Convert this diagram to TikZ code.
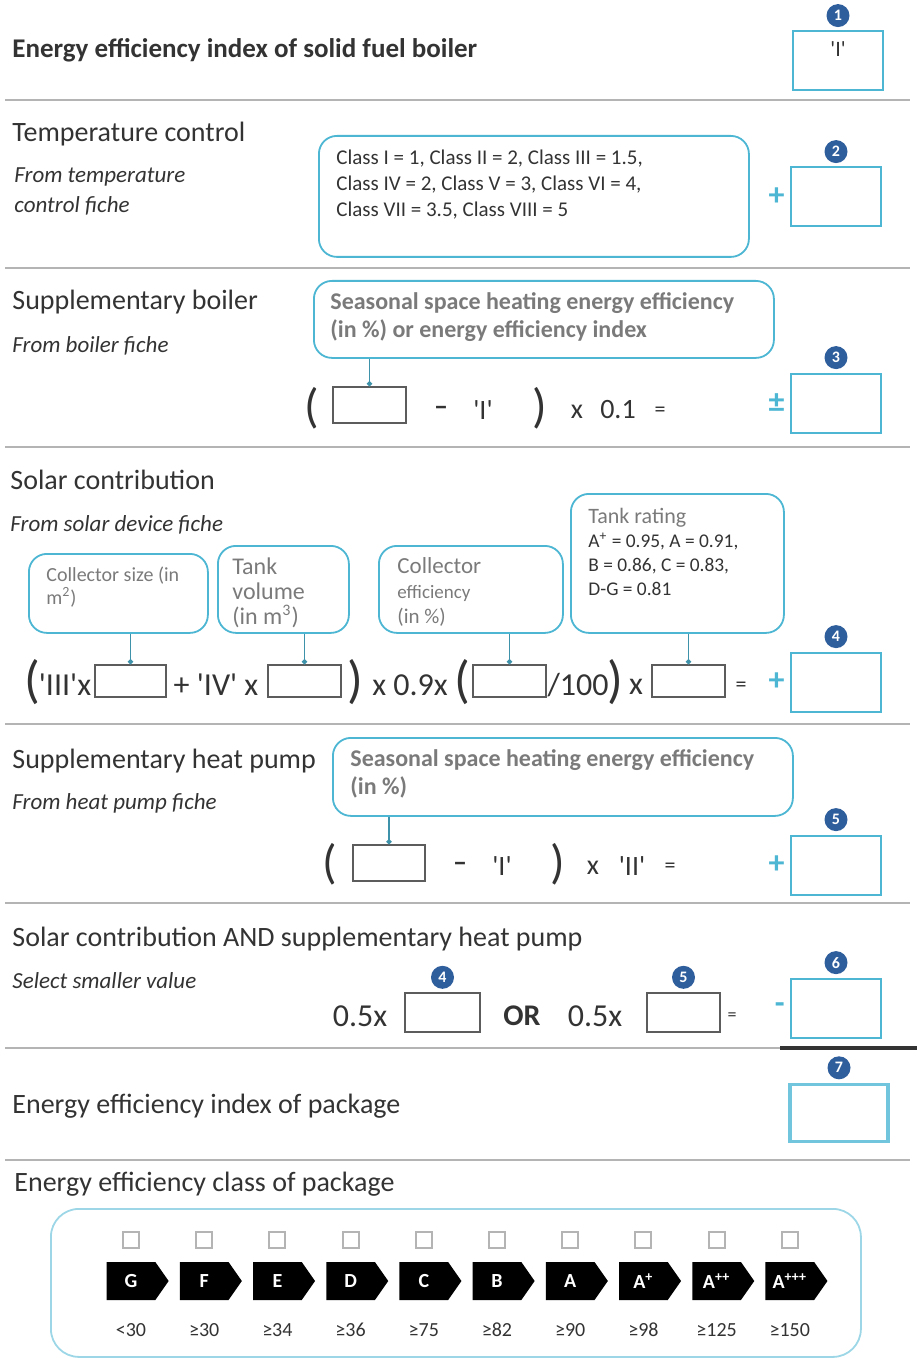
\documentclass[tikz,border=0pt]{standalone}
\usepackage{fontspec}
\setmainfont{Carlito}
\usetikzlibrary{positioning, arrows.meta, shapes.symbols}
\definecolor{frame}{HTML}{4DB6D3}
\definecolor{numblue}{HTML}{2F5E9C}
\definecolor{rulegray}{HTML}{B4B4B4}
\definecolor{hint}{HTML}{7A7A7A}
\definecolor{ink}{HTML}{333333}
\newcommand\qt[1]{\textquotesingle#1\textquotesingle}

\begin{document}
\begin{tikzpicture}[x=0.5pt, y=-0.5pt,
    sep/.style={draw=rulegray, line width=1.2pt},
    head/.style={anchor=base west, font=\fontsize{14}{16}\selectfont, text=ink, inner sep=0pt},
    sub/.style={anchor=base west, font=\fontsize{11.5}{13}\selectfont\itshape, text=ink, inner sep=0pt},
    result/.style={draw=frame, line width=1pt, minimum width=45pt, minimum height=29.5pt, inner sep=0pt},
    num/.style={circle, fill=numblue, text=white, font=\fontsize{8}{8}\selectfont\bfseries,
        minimum size=11.5pt, inner sep=0pt, above=1.5pt of #1},
    sign/.style={text=frame, font=\fontsize{16}{16}\selectfont\bfseries, inner sep=0pt, left=2.5pt of #1},
    info/.style={draw=frame, line width=0.9pt, rounded corners=9pt, anchor=north west, inner sep=0pt},
    note/.style={anchor=north west, align=left, inner sep=0pt, text=hint},
    entry/.style={draw=ink!80, line width=0.8pt, minimum width=36pt, minimum height=18pt, inner sep=0pt},
    term/.style={font=\fontsize{14}{15}\selectfont, text=ink, inner sep=1pt},
    bigterm/.style={font=\fontsize{16}{17}\selectfont, text=ink, inner sep=1pt},
    brace/.style={font=\fontsize{24}{24}\selectfont, text=ink, inner sep=0pt},
    feed/.style={draw=frame!80!black, line width=0.8pt, -{Circle[length=2.5pt]}},
    grade/.style={signal, signal to=east, signal pointer angle=110, fill=black, text=white,
        font=\fontsize{10}{11}\selectfont\bfseries, minimum width=31pt, minimum height=19pt, inner sep=0pt},
    tick/.style={draw=rulegray, line width=1pt, minimum size=8pt, inner sep=0pt},
    limit/.style={font=\fontsize{10}{11}\selectfont, text=ink, inner sep=0pt}
]
\useasboundingbox (0,0) rectangle (917,1358);

% section rules
\foreach \y in {100, 268, 447, 724, 903, 1160}
    \draw[sep] (5,\y) -- (910,\y);
\draw[sep] (5,1048) -- (780,1048);
\draw[line width=2pt, black!80] (780,1048) -- (917,1048);

% 1: boiler index
\node[head, font=\fontsize{13.5}{16}\selectfont\bfseries] (bhead) at (12,58) {Energy efficiency index of solid fuel boiler};
\node[result] (r1) at (838,61) {};
\node[term, font=\fontsize{11}{12}\selectfont] (r1val) at (838,49) {\qt{I}};
\node[num=r1] (n1) {1};

% 2: temperature control
\node[head] (tchead) at (12,142) {Temperature control};
\node[sub] (tcsub) at (14,183) {From temperature};
\node[sub] (tcsub2) at (14,213) {control fiche};
\node[info, minimum width=215pt, minimum height=60.5pt] (tcinfo) at (318,135) {};
\node[note, text=ink, font=\fontsize{10.5}{13}\selectfont, below right=7.5pt and 9pt of tcinfo.north west] (tctext)
    {Class I = 1, Class II = 2, Class III = 1.5,\\Class IV = 2, Class V = 3, Class VI = 4,\\Class VII = 3.5, Class VIII = 5};
\node[result] (r2) at (836,197) {};
\node[num=r2] (n2) {2};
\node[sign=r2] (s2) {+};

% 3: supplementary boiler
\node[head] (sbhead) at (12,310) {Supplementary boiler};
\node[sub] (sbsub) at (12,352) {From boiler fiche};
\node[info, minimum width=230pt, minimum height=38.5pt] (sbinfo) at (313,280) {};
\node[note, font=\fontsize{12}{14}\selectfont\bfseries, below right=6pt and 8.5pt of sbinfo.north west] (sbtext)
    {Seasonal space heating energy efficiency\\(in \%) or energy efficiency index};
\node[entry, minimum width=36.5pt] (sbin) at (369.5,405) {};
\draw[feed] (sbin.north |- sbinfo.south) -- (sbin.north);
\node[brace] (sbl) at (312,408) {(};
\node[term, font=\fontsize{14}{15}\selectfont\bfseries] (sbminus) at (441,411) {--};
\node[term] (sbI) at (483,410) {\qt{I}};
\node[brace] (sbr) at (540,408) {)};
\node[term] (sbx) at (577,412) {x};
\node[term] (sbf) at (618,410) {0.1};
\node[term, font=\fontsize{11}{12}\selectfont] (sbeq) at (660,412) {=};
\node[result] (r3) at (836,403) {};
\node[num=r3] (n3) {3};
\node[sign=r3] (s3) {±};

% 4: solar contribution
\node[head] (sohead) at (10,489) {Solar contribution};
\node[sub] (sosub) at (10,531) {From solar device fiche};
\node[info, minimum width=89.5pt, minimum height=39.5pt] (cs) at (28,553) {};
\node[info, minimum width=65.5pt, minimum height=43.5pt] (tv) at (217,545) {};
\node[info, minimum width=92pt, minimum height=43.5pt] (ce) at (378,545) {};
\node[info, minimum width=106.5pt, minimum height=69.5pt] (tr) at (570,493) {};
\node[note, font=\fontsize{10}{11.5}\selectfont, below right=6.5pt and 9pt of cs.north west] (cstext)
    {Collector size (in\\m\textsuperscript{2})};
\node[note, font=\fontsize{12}{12.5}\selectfont, below right=6pt and 7.5pt of tv.north west] (tvtext)
    {Tank\\volume\\(in m\textsuperscript{3})};
\node[note, font=\fontsize{11.5}{12.5}\selectfont, below right=6pt and 9.5pt of ce.north west] (cetext)
    {Collector\\{\fontsize{9.5}{12.5}\selectfont efficiency}\\{\fontsize{10.5}{12.5}\selectfont (in \%)}};
\node[note, font=\fontsize{11}{12}\selectfont, below right=7.5pt and 9pt of tr.north west] (trtext)
    {Tank rating\\\textcolor{ink}{\fontsize{9.7}{12}\selectfont A\textsuperscript{+} = 0.95, A = 0.91,}\\
     \textcolor{ink}{\fontsize{9.7}{12}\selectfont B = 0.86, C = 0.83,}\\\textcolor{ink}{\fontsize{9.7}{12}\selectfont D-G = 0.81}};
\node[entry, minimum width=35.5pt, minimum height=16pt] (e1) at (130.5,681) {};
\node[entry, minimum width=36.5pt, minimum height=16pt] (e2) at (304.5,681) {};
\node[entry, minimum width=36.5pt, minimum height=16pt] (e3) at (509.5,681) {};
\node[entry, minimum width=36.5pt, minimum height=16pt] (e4) at (688.5,681) {};
\draw[feed] (e1.north |- cs.south) -- (e1.north);
\draw[feed] (e2.north |- tv.south) -- (e2.north);
\draw[feed] (e3.north |- ce.south) -- (e3.north);
\draw[feed] (e4.north |- tr.south) -- (e4.north);
\node[brace, font=\fontsize{26}{26}\selectfont] (sol1) at (32,682) {(};
\node[bigterm] (soIII) at (65,685) {\qt{III}x};
\node[bigterm] (soIV) at (216,685) {+ \qt{IV} x};
\node[brace, font=\fontsize{26}{26}\selectfont] (sor1) at (355,682) {)};
\node[bigterm] (sonine) at (410,685) {x 0.9x};
\node[brace, font=\fontsize{26}{26}\selectfont] (sol2) at (462,682) {(};
\node[bigterm] (sohund) at (578,685) {/100};
\node[brace, font=\fontsize{26}{26}\selectfont] (sor2) at (615,682) {)};
\node[bigterm] (sox) at (636,687) {x};
\node[term, font=\fontsize{11}{12}\selectfont] (soeq) at (741,687) {=};
\node[result] (r4) at (836,682) {};
\node[num=r4] (n4) {4};
\node[sign=r4] (s4) {+};

% 5: supplementary heat pump
\node[head] (hphead) at (12,768) {Supplementary heat pump};
\node[sub] (hpsub) at (12,809) {From heat pump fiche};
\node[info, minimum width=230pt, minimum height=39pt] (hpinfo) at (332,737) {};
\node[note, font=\fontsize{12}{14}\selectfont\bfseries, below right=6pt and 9pt of hpinfo.north west] (hptext)
    {Seasonal space heating energy efficiency\\(in \%)};
\node[entry] (hpin) at (389,863) {};
\draw[feed] (hpin.north |- hpinfo.south) -- (hpin.north);
\node[brace] (hpl) at (330,864) {(};
\node[term, font=\fontsize{14}{15}\selectfont\bfseries] (hpminus) at (460,867) {--};
\node[term] (hpI) at (502,866) {\qt{I}};
\node[brace] (hpr) at (558,864) {)};
\node[term] (hpx) at (593,868) {x};
\node[term] (hpII) at (632,866) {\qt{II}};
\node[term, font=\fontsize{11}{12}\selectfont] (hpeq) at (670,868) {=};
\node[result] (r5) at (836,865) {};
\node[num=r5] (n5) {5};
\node[sign=r5] (s5) {+};

% 6: solar and heat pump
\node[head] (bothhead) at (12,946) {Solar contribution AND supplementary heat pump};
\node[sub] (bothsub) at (12,988) {Select smaller value};
\node[bigterm] (half1) at (360,1016) {0.5x};
\node[entry, minimum width=37.5pt, minimum height=19.5pt] (q4) at (442.5,1012.5) {};
\node[num=q4] (m4) {4};
\node[bigterm, font=\fontsize{15}{16}\selectfont\bfseries] (or) at (522,1016) {OR};
\node[bigterm] (half2) at (595,1016) {0.5x};
\node[entry, minimum width=36.5pt, minimum height=19.5pt] (q5) at (683.5,1012.5) {};
\node[num=q5] (m5) {5};
\node[term, font=\fontsize{9}{10}\selectfont] (botheq) at (732,1017) {=};
\node[result] (r6) at (836,1008) {};
\node[num=r6] (n6) {6};
\node[sign=r6] (s6) {-};

% 7: package index
\node[head] (pihead) at (12,1113) {Energy efficiency index of package};
\node[result, draw=frame!80, line width=1.8pt, minimum width=49pt, minimum height=28.5pt] (r7) at (839,1113) {};
\node[num=r7] (n7) {7};

% package class
\node[head] (pchead) at (14,1191) {Energy efficiency class of package};
\node[info, draw=frame!55, rounded corners=14pt, minimum width=405pt, minimum height=74pt] (pcinfo) at (50,1208) {};
\foreach \g/\lim [count=\i from 0] in {G/{<30}, F/{≥30}, E/{≥34}, D/{≥36}, C/{≥75}, B/{≥82}, A/{≥90},
        A\textsuperscript{+}/{≥98}, A\textsuperscript{++}/{≥125}, A\textsuperscript{+++}/{≥150}} {
    \node[tick] (t\i) at (131+73.2*\i, 1240) {};
    \node[grade] (g\i) at (131+73.2*\i, 1281) {\g};
    \node[limit] (l\i) at (131+73.2*\i, 1330) {\lim};
}
\end{tikzpicture}
\end{document}
